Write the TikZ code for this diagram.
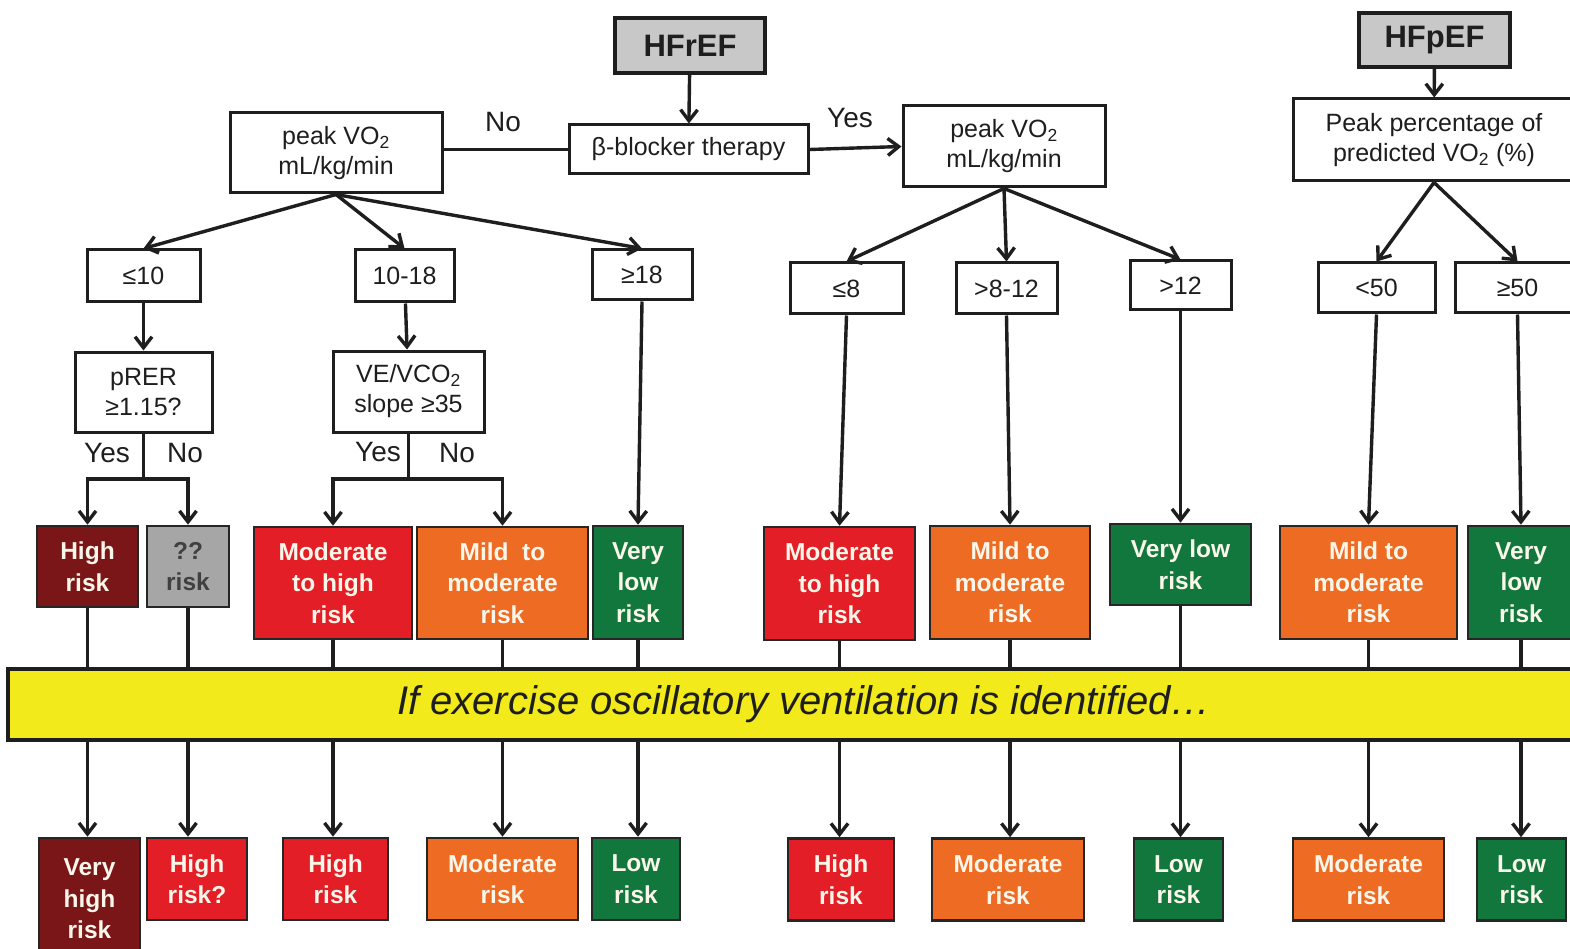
\documentclass[tikz,border=0pt]{standalone}
\usepackage{fontspec}
\setmainfont{Liberation Sans}
\usetikzlibrary{arrows.meta}
\definecolor{dred}{HTML}{7A1518}
\definecolor{rred}{HTML}{E31E26}
\definecolor{oorg}{HTML}{EE6B24}
\definecolor{ggrn}{HTML}{11773D}
\definecolor{gry}{HTML}{A6A6A6}
\definecolor{hgry}{HTML}{C8C8C8}
\definecolor{yel}{HTML}{F2EA1B}
\definecolor{cream}{HTML}{FBF6EA}
\definecolor{ink}{HTML}{1E1E1E}
\begin{document}
\begin{tikzpicture}[x=1pt,y=-1pt,
  wbox/.style={draw=ink, fill=white, line width=3pt, inner sep=0pt, align=center, text=ink, font=\fontsize{25}{30}\selectfont},
  rbox/.style={draw=black!85, line width=2.6pt, inner sep=0pt, align=center, text=cream, font=\bfseries\fontsize{24.5}{31.5}\selectfont},
  hbox/.style={draw=ink, fill=hgry, line width=3.2pt, inner sep=0pt, text=ink, font=\bfseries\fontsize{31}{34}\selectfont},
  arr/.style={draw=ink, line width=3.4pt, -{Straight Barb[length=11pt,width=17pt]}},
  conn/.style={draw=ink, line width=3.4pt},
  lbl/.style={font=\fontsize{28}{30}\selectfont, text=ink, inner sep=0pt}]
\useasboundingbox (0,0) rectangle (1570,949);
\fill[white] (0,0) rectangle (1570,949);

% top
\node[hbox, minimum width=150, minimum height=55] (hfref) at (690,45.5) {HFrEF};
\node[wbox, minimum width=239, minimum height=49] (beta) at (688.5,149.5) {β-blocker therapy};
\node[wbox, minimum width=212, minimum height=80] (peakL) at (336,153) {peak VO\textsubscript{2}\\mL/kg/min};
\node[wbox, minimum width=202, minimum height=81] (peakR) at (1004,146.5) {peak VO\textsubscript{2}\\mL/kg/min};
\node[hbox, minimum width=151, minimum height=54] (hfpef) at (1434.5,40) {HFpEF};
\node[wbox, minimum width=282, minimum height=82] (pct) at (1434,140) {Peak percentage of\\predicted VO\textsubscript{2} (\%)};

\node[lbl] (no) at (503,122) {No};
\node[lbl] (yes) at (850,118) {Yes};

% thresholds
\node[wbox, minimum width=113, minimum height=52] (le10) at (143.5,276) {≤10};
\node[wbox, minimum width=99, minimum height=52] (r1018) at (404.5,276) {10-18};
\node[wbox, minimum width=100, minimum height=50] (ge18) at (642,275) {≥18};
\node[wbox, minimum width=113, minimum height=51] (le8) at (846.5,288.5) {≤8};
\node[wbox, minimum width=101, minimum height=51] (r812) at (1006.5,288.5) {>8-12};
\node[wbox, minimum width=101, minimum height=49] (gt12) at (1180.5,285.5) {>12};
\node[wbox, minimum width=117, minimum height=50] (lt50) at (1376.5,288) {<50};
\node[wbox, minimum width=125, minimum height=50] (ge50) at (1517.5,288) {≥50};

\node[wbox, minimum width=137, minimum height=80] (prer) at (143.5,392) {pRER\\≥1.15?};
\node[wbox, minimum width=151, minimum height=81] (vevco) at (408.5,391.5) {VE/VCO\textsubscript{2}\\slope ≥35};

\node[lbl] at (107,453) {Yes};
\node[lbl] at (185,453) {No};
\node[lbl] at (378,452) {Yes};
\node[lbl] at (457,453) {No};

% risk row 1
\node[rbox, fill=dred, minimum width=101, minimum height=81] (r1a) at (87.5,566.5) {High\\risk};
\node[rbox, fill=gry, text=ink!85, minimum width=82, minimum height=81] (r1b) at (188,566.5) {??\\risk};
\node[rbox, fill=rred, minimum width=158, minimum height=112] (r1c) at (333,583) {Moderate\\to high\\risk};
\node[rbox, fill=oorg, minimum width=171, minimum height=112] (r1d) at (502.5,583) {Mild\ \ to\\moderate\\risk};
\node[rbox, fill=ggrn, minimum width=90, minimum height=113] (r1e) at (638,582.5) {Very\\low\\risk};
\node[rbox, fill=rred, minimum width=151, minimum height=113] (r1f) at (839.5,583.5) {Moderate\\to high\\risk};
\node[rbox, fill=oorg, minimum width=160, minimum height=113] (r1g) at (1010,582.5) {Mild to\\moderate\\risk};
\node[rbox, fill=ggrn, minimum width=141, minimum height=81] (r1h) at (1180.5,564.5) {Very low\\risk};
\node[rbox, fill=oorg, minimum width=177, minimum height=113] (r1i) at (1368.5,582.5) {Mild to\\moderate\\risk};
\node[rbox, fill=ggrn, minimum width=106, minimum height=113] (r1j) at (1521,582.5) {Very\\low\\risk};

% band
\node[draw=ink, fill=yel, line width=3.4pt, minimum width=1592, minimum height=71, inner sep=0pt,
      font=\itshape\fontsize{40}{44}\selectfont, text=ink] (band) at (804,704.5) {If exercise oscillatory ventilation is identified…};

% risk row 2
\node[rbox, fill=dred, minimum width=101, minimum height=122] (b1) at (89.5,899) {Very\\high\\risk};
\node[rbox, fill=rred, minimum width=100, minimum height=82] (b2) at (197,879) {High\\risk?};
\node[rbox, fill=rred, minimum width=105, minimum height=82] (b3) at (335.5,879) {High\\risk};
\node[rbox, fill=oorg, minimum width=151, minimum height=82] (b4) at (502.5,879) {Moderate\\risk};
\node[rbox, fill=ggrn, minimum width=88, minimum height=82] (b5) at (636,879) {Low\\risk};
\node[rbox, fill=rred, minimum width=106, minimum height=82] (b6) at (841,879.5) {High\\risk};
\node[rbox, fill=oorg, minimum width=152, minimum height=82] (b7) at (1008,879.5) {Moderate\\risk};
\node[rbox, fill=ggrn, minimum width=89, minimum height=82] (b8) at (1178.5,879.5) {Low\\risk};
\node[rbox, fill=oorg, minimum width=151, minimum height=82] (b9) at (1368.5,879.5) {Moderate\\risk};
\node[rbox, fill=ggrn, minimum width=89, minimum height=82] (b10) at (1521.5,879.5) {Low\\risk};

% connectors top
\draw[arr] (hfref) -- (beta);
\draw[conn] (peakL.east |- beta.west) -- (beta.west);
\draw[arr] (beta.east) -- (peakR.west);
\draw[arr] (peakL.south) -- (le10.north);
\draw[arr] (peakL.south) -- (r1018.north);
\draw[arr] (peakL.south) -- (ge18.north);
\draw[arr] (peakR.south) -- (le8.north);
\draw[arr] (peakR.south) -- (r812.north);
\draw[arr] (peakR.south) -- (gt12.north);
\draw[arr] (hfpef) -- (pct);
\draw[arr] (pct.south) -- (lt50.north);
\draw[arr] (pct.south) -- (ge50.north);

\draw[arr] (le10) -- (prer);
\draw[arr] (r1018) -- (vevco);
\draw[arr] (ge18.south) -- (r1e.north);
\draw[arr] (le8.south) -- (r1f.north);
\draw[arr] (r812.south) -- (r1g.north);
\draw[arr] (gt12.south) -- (r1h.north);
\draw[arr] (lt50.south) -- (r1i.north);
\draw[arr] (ge50.south) -- (r1j.north);

\coordinate (j1) at (143.5,479);
\coordinate (j2) at (408.5,479);
\draw[conn] (prer.south) -- (j1);
\draw[arr] (j1) -| (r1a.north);
\draw[arr] (j1) -| (r1b.north);
\draw[conn] (vevco.south) -- (j2);
\draw[arr] (j2) -| (r1c.north);
\draw[arr] (j2) -| (r1d.north);

% to band and below
\foreach \t/\b in {r1a/b1, r1b/b2, r1c/b3, r1d/b4, r1e/b5, r1f/b6, r1g/b7, r1h/b8, r1i/b9, r1j/b10} {
  \draw[conn] (\t.south) -- (\t.south |- band.north);
  \draw[arr] (\t.south |- band.south) -- (\t.south |- \b.north);
}
\end{tikzpicture}
\end{document}
